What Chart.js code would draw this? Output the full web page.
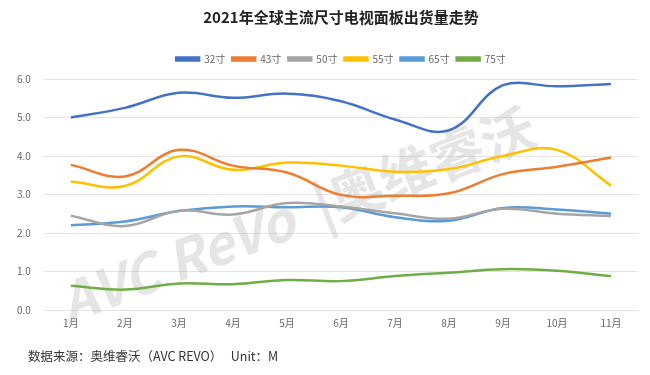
<!DOCTYPE html>
<html>
<head>
<meta charset="utf-8">
<script src="https://cdn.jsdelivr.net/npm/chart.js@4"></script>
<style>
  body { margin: 0; background: #fff; }
  #wrap { position: relative; width: 650px; height: 375px; }
  #note { position: absolute; left: 28px; top: 346px; font: 12.5px "Noto Sans CJK SC", sans-serif; color: #333; }
</style>
</head>
<body>
<div id="wrap">
  <canvas id="myChart" width="650" height="375"></canvas>
  <div id="note">数据来源：奥维睿沃（AVC REVO）&nbsp;&nbsp;&nbsp;Unit：M</div>
</div>
<script>
// months on x axis
const months = ['1月', '2月', '3月', '4月', '5月', '6月', '7月', '8月', '9月', '10月', '11月'];

// panel shipments per size, millions
const s32 = [5.00, 5.25, 5.64, 5.51, 5.62, 5.42, 4.95, 4.67, 5.84, 5.81, 5.87];
const s43 = [3.77, 3.47, 4.16, 3.75, 3.57, 2.99, 2.97, 3.03, 3.53, 3.72, 3.96];
const s50 = [2.45, 2.18, 2.58, 2.48, 2.78, 2.69, 2.51, 2.37, 2.63, 2.50, 2.44];
const s55 = [3.34, 3.22, 3.99, 3.64, 3.83, 3.75, 3.59, 3.66, 4.00, 4.16, 3.23];
const s65 = [2.20, 2.30, 2.57, 2.69, 2.67, 2.67, 2.41, 2.32, 2.65, 2.61, 2.50];
const s75 = [0.63, 0.53, 0.69, 0.67, 0.78, 0.75, 0.88, 0.97, 1.06, 1.02, 0.88];

const sizeNames = ['32寸', '43寸', '50寸', '55寸', '65寸', '75寸'];
const sizeColors = ['#4472C4', '#ED7D31', '#A5A5A5', '#FFC000', '#5B9BD5', '#70AD47'];
const allSeries = [s32, s43, s50, s55, s65, s75];

const cjk = '"Noto Sans CJK SC", sans-serif';

// faint watermark behind the lines
const watermark = {
    id: 'watermark',
    beforeDatasetsDraw(chart) {
        const ctx = chart.ctx;
        ctx.save();
        ctx.translate(62, 305);
        ctx.rotate(-21 * Math.PI / 180);
        ctx.fillStyle = 'rgba(170,170,170,0.3)';
        ctx.font = 'italic bold 54px ' + cjk;
        ctx.fillText('AVC ReVo', 0, 0);
        ctx.font = 'bold 54px ' + cjk;
        ctx.fillText('|奥维睿沃', 272, 0);
        ctx.restore();
    }
};

// extra room under the legend
const legendGap = {
    id: 'legendGap',
    beforeInit(chart) {
        const fit = chart.legend.fit;
        chart.legend.fit = function () {
            fit.bind(chart.legend)();
            this.height += 5;
        };
    }
};

// title and legend are centred over the plot, not the whole canvas
const centerHeader = {
    id: 'centerHeader',
    afterLayout(chart) {
        const area = chart.chartArea;
        [chart.titleBlock, chart.legend].forEach(box => {
            box.left = area.left;
            box.right = area.right;
        });
    }
};

const datasets = allSeries.map((vals, i) => {
    return {
        label: sizeNames[i],
        data: vals,
        borderColor: sizeColors[i],
        backgroundColor: sizeColors[i],
        borderWidth: 2.5,
        pointRadius: 0,
        tension: 0.4,
        fill: false
    };
});

const myChart = document.getElementById('myChart');

let lineChart = new Chart(myChart, {
    type: 'line',
    data: {
        labels: months,
        datasets: datasets
    },
    plugins: [watermark, legendGap, centerHeader],
    options: {
        responsive: false,
        animation: false,
        layout: {
            padding: { left: 4, right: 12, bottom: 39 }
        },
        plugins: {
            title: {
                display: true,
                text: '2021年全球主流尺寸电视面板出货量走势',
                color: '#222',
                font: { family: cjk, size: 15, weight: 'bold' },
                padding: { top: 8, bottom: 21 }
            },
            legend: {
                labels: {
                    boxWidth: 23,
                    boxHeight: 3,
                    padding: 7,
                    color: '#666',
                    font: { family: cjk, size: 10 }
                }
            },
            tooltip: { enabled: false }
        },
        scales: {
            x: {
                offset: true,
                grid: { display: false, drawTicks: false },
                border: { display: false },
                ticks: { color: '#666', padding: 7, font: { family: cjk, size: 10 }, maxRotation: 0 }
            },
            y: {
                min: 0,
                max: 6,
                ticks: {
                    stepSize: 1,
                    color: '#666',
                    padding: 13,
                    font: { family: cjk, size: 10 },
                    callback: v => v.toFixed(1)
                },
                grid: { color: '#e4e4e4', drawTicks: false },
                border: { display: false }
            }
        }
    }
});
</script>
</body>
</html>
